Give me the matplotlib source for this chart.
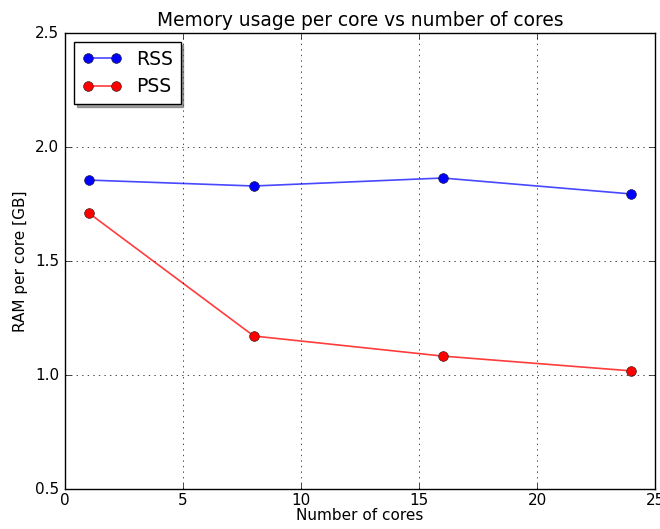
import matplotlib
matplotlib.use("Agg")
import matplotlib.pyplot as plt

cores = [1, 8, 16, 24]
rss = [1.855, 1.829, 1.864, 1.794]
pss = [1.711, 1.171, 1.083, 1.018]

plt.style.use('classic')
fig = plt.figure(figsize=(6.6, 5.29), dpi=100, facecolor='white')
ax = fig.add_axes([0.0985, 0.0756, 0.894, 0.862])

ax.plot(cores, rss, '-o', color=(0.1, 0.1, 1.0, 0.8), markerfacecolor='b',
        markeredgecolor='#202040', markersize=7, linewidth=1.2, label='RSS')
ax.plot(cores, pss, '-o', color=(1.0, 0.1, 0.1, 0.85), markerfacecolor='r',
        markeredgecolor='#402020', markersize=7, linewidth=1.2, label='PSS')

ax.set_xlim(0, 25)
ax.set_ylim(0.5, 2.5)
ax.set_xticks([0, 5, 10, 15, 20, 25])
ax.set_yticks([0.5, 1.0, 1.5, 2.0, 2.5])
ax.set_yticklabels(['0.5', '1.0', '1.5', '2.0', '2.5'])
ax.tick_params(labelsize=11)
ax.tick_params(axis='x', pad=3)
ax.grid(True)
ax.set_title('Memory usage per core vs number of cores', fontsize=13.4)
ax.set_xlabel('Number of cores', fontsize=11, labelpad=0)
ax.set_ylabel('RAM per core [GB]', fontsize=11)
ax.legend(loc='upper left', shadow=True, fontsize=13.5, numpoints=2,
          labelspacing=0.45, borderpad=0.4, handlelength=2.1)

fig.savefig('out.png', dpi=100, facecolor='white')
